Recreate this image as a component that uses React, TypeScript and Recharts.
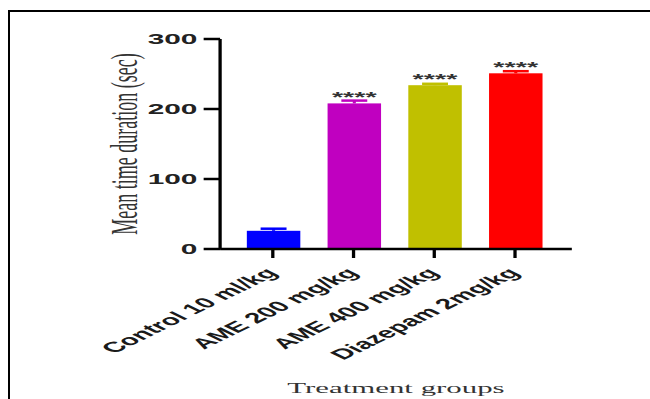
import { BarChart, Bar, XAxis, YAxis, Cell, LabelList, Label } from 'recharts';

// The reference figure is a GraphPad export that was stretched horizontally
// (~2.06x); we draw at a narrow width and stretch the whole chart to match.
const STRETCH = 650 / 316;

const groups = ['Control 10 ml/kg', 'AME 200 mg/kg', 'AME 400 mg/kg', 'Diazepam 2mg/kg'];
const meanDuration = [26, 208, 234, 251];
const semDuration = [3, 4, 2, 3];
const significance = ['', '****', '****', '****'];
const barColors = ['#0000ff', '#c000c0', '#c0c000', '#ff0000'];
const yTicks = [0, 100, 200, 300];

const data = groups.map((group, i) => ({
  group,
  mean: meanDuration[i],
  sem: semDuration[i],
  sig: significance[i],
}));

const SANS = '"Liberation Sans", Arial, Helvetica, sans-serif';
const SERIF = '"Liberation Serif", "Times New Roman", serif';

// bar + SEM cap in the bar's own colour (like the original)
function BarWithCap(props: any) {
  const { x, y, width, height, fill, payload } = props;
  const unit = payload.mean ? height / payload.mean : 0;
  const top = y - payload.sem * unit;
  const cx = x + width / 2;
  return (
    <g>
      <rect x={x} y={y} width={width} height={height} fill={fill} />
      <line x1={cx} x2={cx} y1={y} y2={top} stroke={fill} strokeWidth={1.5} />
      <line x1={cx - 6.3} x2={cx + 6.3} y1={top} y2={top} stroke={fill} strokeWidth={2.5} />
    </g>
  );
}

function GroupTick({ x, y, payload }: any) {
  const tx = x + 3;
  const ty = y + 14;
  return (
    <text
      x={tx}
      y={ty}
      textAnchor="end"
      transform={`rotate(-45, ${tx}, ${ty})`}
      fontSize={14.5}
      fontWeight="bold"
      fontFamily={SANS}
      fill="#1a1a1a"
    >
      {payload.value}
    </text>
  );
}

export default function App() {
  return (
    <>
      <div
        style={{
          position: 'absolute',
          left: 7.5,
          top: 10,
          width: 642.5,
          height: 389,
          boxSizing: 'border-box',
          borderLeft: '2.5px solid #000',
          borderTop: '2.5px solid #000',
        }}
      />
      <div
        style={{
          position: 'absolute',
          left: 0,
          top: 0,
          width: 316,
          height: 399,
          transform: `scaleX(${STRETCH})`,
          transformOrigin: '0 0',
        }}
      >
        <BarChart width={316} height={399} data={data} margin={{ top: 39, right: 38, bottom: 0, left: 0 }}>
          <XAxis
            dataKey="group"
            height={150}
            interval={0}
            padding={{ left: 6, right: 8 }}
            axisLine={{ stroke: '#000', strokeWidth: 2.5 }}
            tickLine={{ stroke: '#000', strokeWidth: 1.6 }}
            tickSize={9}
            tickMargin={2}
            tick={<GroupTick />}
          >
            <Label
              value="Treatment groups"
              position="insideBottom"
              offset={6}
              style={{ fontSize: 15, fontFamily: SERIF, fill: '#333' }}
            />
          </XAxis>
          <YAxis
            width={107}
            domain={[0, 300]}
            ticks={yTicks}
            interval={0}
            axisLine={{ stroke: '#000', strokeWidth: 1.6 }}
            tickLine={{ stroke: '#000', strokeWidth: 2.5 }}
            tickSize={8}
            tickMargin={3}
            tick={{ fontSize: 14.5, fontWeight: 'bold', fontFamily: SANS, fill: '#222' }}
          >
            <Label
              value="Mean time duration (sec)"
              angle={-90}
              position="insideLeft"
              offset={60}
              style={{ textAnchor: 'middle', fontSize: 18, fontFamily: SERIF, fill: '#333' }}
            />
          </YAxis>
          <Bar dataKey="mean" barSize={26} shape={<BarWithCap />} isAnimationActive={false}>
            {data.map((d, i) => (
              <Cell key={d.group} fill={barColors[i]} />
            ))}
            <LabelList
              dataKey="sig"
              position="top"
              offset={1}
              style={{ fontSize: 14, fontWeight: 'bold', fontFamily: SANS, fill: '#333' }}
            />
          </Bar>
        </BarChart>
      </div>
    </>
  );
}
